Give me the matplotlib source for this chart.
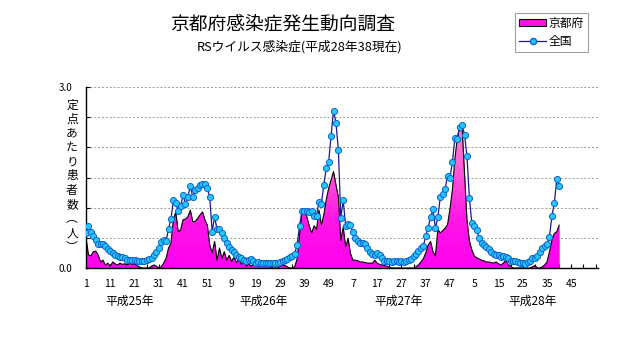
"""RSウイルス感染症 定点あたり患者数 — 京都府 vs 全国 (平成25年〜28年)."""
import numpy as np
import matplotlib
matplotlib.use("Agg")
import matplotlib.pyplot as plt
import matplotlib.patches as mpatches
from matplotlib.lines import Line2D
from matplotlib.colors import LinearSegmentedColormap

plt.rcParams["font.family"] = ["Noto Sans CJK JP", "DejaVu Sans"]

# ── data (per-sentinel weekly counts, H25 wk1 .. H28 wk40) ──────────────────
NATIONAL_H25 = [0.58, 0.70, 0.60, 0.53, 0.46, 0.40, 0.40, 0.40, 0.36, 0.32,
                0.28, 0.25, 0.22, 0.20, 0.18, 0.18, 0.16, 0.14, 0.14, 0.14,
                0.13, 0.12, 0.11, 0.11, 0.11, 0.13, 0.15, 0.17, 0.21, 0.26,
                0.33, 0.43, 0.46, 0.44, 0.65, 0.81, 1.12, 1.07, 0.95, 1.03,
                1.21, 1.06, 1.18, 1.36, 1.17, 1.30, 1.32, 1.38, 1.40, 1.39,
                1.32, 1.17]
NATIONAL_H26 = [0.60, 0.85, 0.64, 0.64, 0.58, 0.49, 0.41, 0.35, 0.30, 0.26,
                0.22, 0.19, 0.17, 0.14, 0.12, 0.13, 0.15, 0.12, 0.09, 0.10,
                0.08, 0.08, 0.08, 0.08, 0.08, 0.08, 0.08, 0.08, 0.10, 0.12,
                0.14, 0.15, 0.18, 0.20, 0.24, 0.38, 0.70, 0.94, 0.94, 0.94,
                0.93, 0.94, 0.86, 0.87, 1.10, 1.06, 1.38, 1.65, 1.76, 2.19,
                2.61, 2.41]
NATIONAL_H27 = [1.96, 0.83, 1.12, 0.70, 0.73, 0.71, 0.59, 0.50, 0.45, 0.42,
                0.42, 0.40, 0.33, 0.27, 0.23, 0.22, 0.25, 0.22, 0.16, 0.11,
                0.11, 0.11, 0.10, 0.11, 0.11, 0.10, 0.11, 0.10, 0.11, 0.13,
                0.15, 0.20, 0.24, 0.29, 0.33, 0.36, 0.53, 0.67, 0.84, 0.97,
                0.66, 0.84, 1.17, 1.23, 1.31, 1.53, 1.50, 1.75, 2.15, 2.13,
                2.34, 2.37]
NATIONAL_H28 = [2.21, 1.85, 1.16, 0.74, 0.70, 0.63, 0.50, 0.42, 0.38, 0.34,
                0.31, 0.27, 0.23, 0.21, 0.22, 0.18, 0.20, 0.19, 0.16, 0.12,
                0.12, 0.12, 0.10, 0.09, 0.08, 0.07, 0.10, 0.12, 0.16, 0.17,
                0.20, 0.27, 0.33, 0.37, 0.40, 0.52, 0.86, 1.07, 1.47, 1.36]

KYOTO_H25 = [0.50, 0.22, 0.20, 0.27, 0.28, 0.22, 0.10, 0.13, 0.05, 0.08,
             0.03, 0.10, 0.07, 0.05, 0.08, 0.06, 0.07, 0.05, 0.08, 0.06,
             0.07, 0.04, 0.02, 0.00, 0.00, 0.00, 0.00, 0.03, 0.05, 0.03,
             0.00, 0.02, 0.08, 0.16, 0.33, 0.41, 0.80, 0.93, 0.60, 0.63,
             0.80, 0.81, 0.85, 0.96, 0.77, 0.77, 0.82, 0.88, 0.93, 0.80,
             0.71, 0.38]
KYOTO_H26 = [0.25, 0.44, 0.13, 0.33, 0.16, 0.27, 0.13, 0.21, 0.11, 0.18,
             0.09, 0.15, 0.06, 0.11, 0.03, 0.07, 0.03, 0.06, 0.05, 0.08,
             0.05, 0.06, 0.04, 0.03, 0.02, 0.00, 0.00, 0.00, 0.03, 0.05,
             0.04, 0.02, 0.00, 0.00, 0.02, 0.15, 0.55, 0.93, 0.95, 0.85,
             0.70, 0.58, 0.70, 0.64, 0.96, 0.71, 0.88, 1.13, 1.32, 1.46,
             1.60, 1.38]
KYOTO_H27 = [1.18, 0.46, 0.68, 0.35, 0.49, 0.24, 0.13, 0.13, 0.12, 0.10,
             0.10, 0.09, 0.08, 0.08, 0.08, 0.13, 0.08, 0.06, 0.05, 0.04,
             0.03, 0.02, 0.00, 0.00, 0.00, 0.00, 0.00, 0.00, 0.00, 0.00,
             0.00, 0.00, 0.02, 0.05, 0.10, 0.15, 0.25, 0.38, 0.44, 0.27,
             0.20, 0.64, 0.58, 0.62, 0.66, 0.72, 0.98, 1.30, 1.80, 2.15,
             2.34, 2.32]
KYOTO_H28 = [1.55, 0.80, 0.45, 0.30, 0.20, 0.17, 0.15, 0.13, 0.12, 0.10,
             0.10, 0.09, 0.08, 0.10, 0.07, 0.05, 0.08, 0.13, 0.05, 0.03,
             0.00, 0.00, 0.00, 0.00, 0.00, 0.00, 0.00, 0.00, 0.02, 0.04,
             0.00, 0.00, 0.02, 0.05, 0.10, 0.27, 0.46, 0.57, 0.60, 0.71]

WEEK_LABELS = ["1", "11", "21", "31", "41", "51", "9", "19", "29", "39", "49",
               "7", "17", "27", "37", "47", "5", "15", "25", "35", "45"]
YEAR_LABELS = ["平成25年", "平成26年", "平成27年", "平成28年"]
Y_TICKS = [0.0, 0.5, 1.0, 1.5, 2.0, 2.5, 3.0]

national = np.array(NATIONAL_H25 + NATIONAL_H26 + NATIONAL_H27 + NATIONAL_H28)
kyoto = np.array(KYOTO_H25 + KYOTO_H26 + KYOTO_H27 + KYOTO_H28)
x = np.arange(len(national))

# ── figure ───────────────────────────────────────────────────────────────────
fig = plt.figure(figsize=(6.31, 3.47), dpi=100)
ax = fig.add_axes([86 / 631, 1 - 268 / 347, 512 / 631, 181 / 347])

# Kyoto area: magenta fading to pink towards the top (gradient clipped to area)
area = ax.fill_between(x, kyoto, 0, color="#FF10E8", linewidth=0, zorder=2)
grad_cmap = LinearSegmentedColormap.from_list(
    "kyoto", ["#FF00F0", "#FF18E6", "#FF5ED6", "#FF86CC"])
grad = np.linspace(0, 1, 256).reshape(-1, 1)
im = ax.imshow(grad, extent=[0, 211, 0, 2.5], origin="lower", aspect="auto",
               cmap=grad_cmap, zorder=2.5, interpolation="bilinear")
clip = mpatches.PathPatch(area.get_paths()[0], transform=ax.transData,
                          facecolor="none", edgecolor="none")
ax.add_patch(clip)
im.set_clip_path(clip)

ax.plot(x, kyoto, color="black", lw=0.8, zorder=3)
ax.plot(x, national, color="#1A1A8C", lw=0.9, marker="o", ms=4.4,
        mfc="#22C8FF", mec="#1060D0", mew=0.7, zorder=4)

ax.set_xlim(0, 211)
ax.set_ylim(0, 3.0)
ax.set_yticks(Y_TICKS)
# inner tick labels are covered by the vertical axis title in the original
ax.set_yticklabels([f"{v:.1f}" if v in (0.0, 3.0) else "" for v in Y_TICKS],
                   fontsize=7)
ax.set_xticks(np.arange(0, 201, 10))
ax.set_xticklabels(WEEK_LABELS, fontsize=7.5)
ax.set_xticks(np.arange(0, 211, 5), minor=True)
ax.tick_params(axis="y", direction="in", length=3, width=0.8, pad=10)
ax.tick_params(axis="x", direction="in", length=3, width=0.8, pad=8)
ax.tick_params(axis="x", which="minor", direction="in", length=3, width=0.8)
ax.grid(axis="y", ls=(0, (2, 2)), color="#9aa08a", lw=0.7, zorder=0)
for s in ("top", "right"):
    ax.spines[s].set_visible(False)
ax.spines["left"].set_linewidth(1.0)
ax.spines["bottom"].set_linewidth(1.0)

# year captions under the week ticks
for xpos, lbl in zip([18, 73, 129, 184], YEAR_LABELS):
    ax.text(xpos, -0.55, lbl, ha="center", va="center", fontsize=8.5)

# vertical axis title
fig.text(72 / 631, 1 - 176 / 347, "定\n点\nあ\nた\nり\n患\n者\n数\n︵\n人\n︶",
         ha="center", va="center", fontsize=8.5, linespacing=1.12)

fig.text(283 / 631, 1 - 24 / 347, "京都府感染症発生動向調査",
         ha="center", va="center", fontsize=13.5)
fig.text(300 / 631, 1 - 47 / 347, "RSウイルス感染症(平成28年38現在)",
         ha="center", va="center", fontsize=9.2)

handles = [
    mpatches.Patch(facecolor="#FF10E8", edgecolor="black", lw=0.8, label="京都府"),
    Line2D([], [], color="#1A1A8C", lw=0.9, marker="o", ms=4.4,
           mfc="#22C8FF", mec="#1060D0", label="全国"),
]
leg = fig.legend(handles=handles, loc="upper right",
                 bbox_to_anchor=(594 / 631, 1 - 7 / 347), fontsize=8.5,
                 frameon=True, fancybox=False, handlelength=2.3,
                 handleheight=0.5, borderpad=0.35, labelspacing=0.4,
                 handletextpad=0.2)
leg.get_frame().set_edgecolor("#888888")
leg.get_frame().set_linewidth(0.8)

fig.savefig("out.png", dpi=100)
